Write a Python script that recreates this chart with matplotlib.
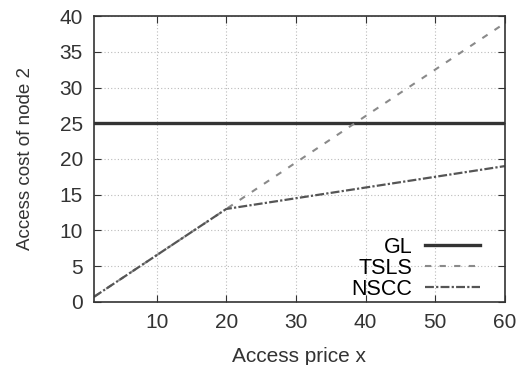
import matplotlib
matplotlib.use('Agg')
import matplotlib.pyplot as plt

# values
x_points = [1, 20, 30, 40, 50, 60]
gl_cost = [25, 25, 25, 25, 25, 25]
tsls_cost = [0.7, 13, 19.5, 26, 32.5, 39]
nscc_cost = [0.7, 13, 14.5, 16, 17.5, 19]

x_ticks = [10, 20, 30, 40, 50, 60]
y_ticks = [0, 5, 10, 15, 20, 25, 30, 35, 40]

plt.rcParams['font.family'] = ['Liberation Sans', 'DejaVu Sans']
plt.rcParams['font.size'] = 15

fig = plt.figure(figsize=(5.22, 3.65), dpi=100)
ax = fig.add_axes([0.180, 0.173, 0.787, 0.783])

ax.plot(x_points, gl_cost, color='#333333', linewidth=2.4, label='GL')
ax.plot(x_points, tsls_cost, color='#8a8a8a', linewidth=1.5, linestyle=(0, (3, 4)), label='TSLS')
ax.plot(x_points, nscc_cost, color='#555555', linewidth=1.6, linestyle=(0, (4, 1, 1, 1)), label='NSCC')

ax.set_xlim(1, 60)
ax.set_ylim(0, 40)
ax.set_xticks(x_ticks)
ax.set_yticks(y_ticks)
ax.tick_params(direction='in', top=True, right=True, length=5, color='#333333', labelsize=15)
ax.tick_params(axis='x', pad=8)
ax.tick_params(axis='y', pad=8)
ax.grid(True, color='#bbbbbb', linestyle=(0, (1, 2)), linewidth=0.8)
for s in ax.spines.values():
    s.set_color('#333333')
    s.set_linewidth(1.2)

ax.set_xlabel('Access price x', color='#333333', fontsize=15, labelpad=11)
ax.set_ylabel('Access cost of node 2', color='#333333', fontsize=13.5, labelpad=18)
for lab in ax.get_xticklabels() + ax.get_yticklabels():
    lab.set_color('#333333')

ax.legend(loc='lower right', frameon=False, markerfirst=False, handlelength=2.55,
          labelspacing=0.0, borderaxespad=0.0, borderpad=0.0, handletextpad=0.6,
          fontsize=15.5, bbox_to_anchor=(0.94, 0.008))

fig.savefig('out.png', dpi=100)
